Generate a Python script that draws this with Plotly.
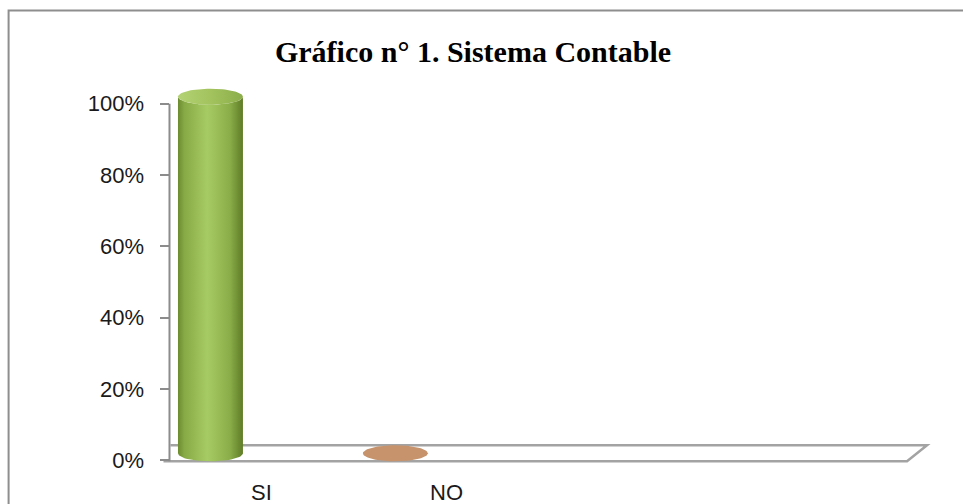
import numpy as np
import plotly.graph_objects as go

# ---------------- data ----------------
categories = ["SI", "NO"]
values = [1.00, 0.00]
bar_colors = ["#9BBB59", "#C6936C"]
y_ticks = [0, 0.2, 0.4, 0.6, 0.8, 1.0]
y_tick_labels = ["0%", "20%", "40%", "60%", "80%", "100%"]
title_text = "Gráfico n° 1. Sistema Contable"

# ---------------- layout constants ----------------
W, H = 963, 504
N_SLOTS = 4
X_RANGE = [-0.1, 4.2]
Y_RANGE = [-0.1, 1.1]
M_L, M_R, M_T, M_B = 150.5, 17, 68.4, 8.4
PLOT_W = W - M_L - M_R
PLOT_H = H - M_T - M_B
PX_X = PLOT_W / (X_RANGE[1] - X_RANGE[0])
PX_Y = PLOT_H / (Y_RANGE[1] - Y_RANGE[0])

BAR_OFFSET = -51.5 / PX_X      # 3D perspective shift of the bars
BAR_RX = 32.5 / PX_X
BAR_RY = 8.0 / PX_Y
DEPTH_Y = 7.0 / PX_Y

AXIS_GRAY = "#8C8C8C"
FLOOR_GRAY = "#A3A3A3"

body_scale = [[0, "#6C8B30"], [0.1, "#88AA46"], [0.45, "#A7CB64"],
              [0.8, "#8BAD49"], [1, "#5E7C27"]]
top_scale = [[0, "#B3D274"], [0.5, "#A2C35E"], [1, "#8CAE4A"]]

fig = go.Figure()

t_front = np.linspace(np.pi, 2 * np.pi, 40)
t_full = np.linspace(0, 2 * np.pi, 80)

for i, (cat, v, col) in enumerate(zip(categories, values, bar_colors)):
    cx = i + 0.5 + BAR_OFFSET
    yb = 0 + DEPTH_Y
    yt = v + DEPTH_Y
    if v > 0:
        bx = np.concatenate([cx + BAR_RX * np.cos(t_front),
                             cx + BAR_RX * np.cos(t_front[::-1])])
        by = np.concatenate([yb + BAR_RY * np.sin(t_front),
                             yt + BAR_RY * np.sin(t_front[::-1])])
        fig.add_trace(go.Scatter(
            x=bx, y=by, mode="lines", fill="toself",
            fillgradient=dict(type="horizontal", colorscale=body_scale),
            line=dict(width=0), hoverinfo="skip", showlegend=False))
        top_fill = dict(fillgradient=dict(type="horizontal", colorscale=top_scale))
    else:
        top_fill = dict(fillcolor=col)
    fig.add_trace(go.Scatter(
        x=cx + BAR_RX * np.cos(t_full), y=yt + BAR_RY * np.sin(t_full),
        mode="lines", fill="toself", line=dict(width=0),
        hoverinfo="skip", showlegend=False, **top_fill))

# category labels
for i, cat in enumerate(categories):
    fig.add_annotation(x=i + 0.5, y=(460 - 492) / PX_Y, xref="x", yref="y",
                       text=cat, showarrow=False, xanchor="center", yanchor="middle",
                       font=dict(family="Liberation Sans", size=22, color="#1A1A1A"))

shapes = []
# floor (3D base)
fx0, fx1 = -6 / PX_X, N_SLOTS - 2 / PX_X
bx1, bx0 = N_SLOTS + 18 / PX_X, 1 / PX_X
fy, by_ = -1 / PX_Y, 15 / PX_Y
shapes.append(dict(type="path", xref="x", yref="y",
                   path=f"M {fx0},{fy} L {fx1},{fy} L {bx1},{by_} L {bx0},{by_}",
                   line=dict(color=FLOOR_GRAY, width=2.5), layer="below"))
# vertical axis line
shapes.append(dict(type="line", xref="x", yref="y", x0=0, x1=0, y0=fy, y1=1,
                   line=dict(color=AXIS_GRAY, width=2)))
# outer chart border
shapes.append(dict(type="rect", xref="paper", yref="paper",
                   x0=(8 - M_L) / PLOT_W, x1=(W + 20 - M_L) / PLOT_W,
                   y0=(H - M_B - (H + 20)) / PLOT_H, y1=(H - M_B - 11) / PLOT_H,
                   line=dict(color="#8E8E8E", width=2)))

fig.update_layout(
    width=W, height=H,
    margin=dict(l=M_L, r=M_R, t=M_T, b=M_B, pad=0),
    paper_bgcolor="white", plot_bgcolor="white",
    showlegend=False,
    shapes=shapes,
    title=dict(text=title_text, xref="container", yref="container",
               x=473 / W, xanchor="center", y=1 - 51 / H, yanchor="middle",
               font=dict(family="Liberation Serif", size=30, color="#000000",
                         weight="bold")),
    xaxis=dict(range=X_RANGE, showgrid=False, zeroline=False, showline=False,
               showticklabels=False, ticks=""),
    yaxis=dict(range=Y_RANGE, showgrid=False, zeroline=False, showline=False,
               anchor="free", position=(0 - X_RANGE[0]) / (X_RANGE[1] - X_RANGE[0]),
               tickvals=y_ticks, ticktext=y_tick_labels, ticks="outside",
               ticklen=9, tickwidth=2, tickcolor=AXIS_GRAY,
               ticklabelstandoff=12,
               tickfont=dict(family="Liberation Sans", size=22, color="#1A1A1A")),
)

fig.write_html("out.html", config={"displayModeBar": False},
               post_script="document.body.style.margin='0';document.body.style.overflow='hidden';")
